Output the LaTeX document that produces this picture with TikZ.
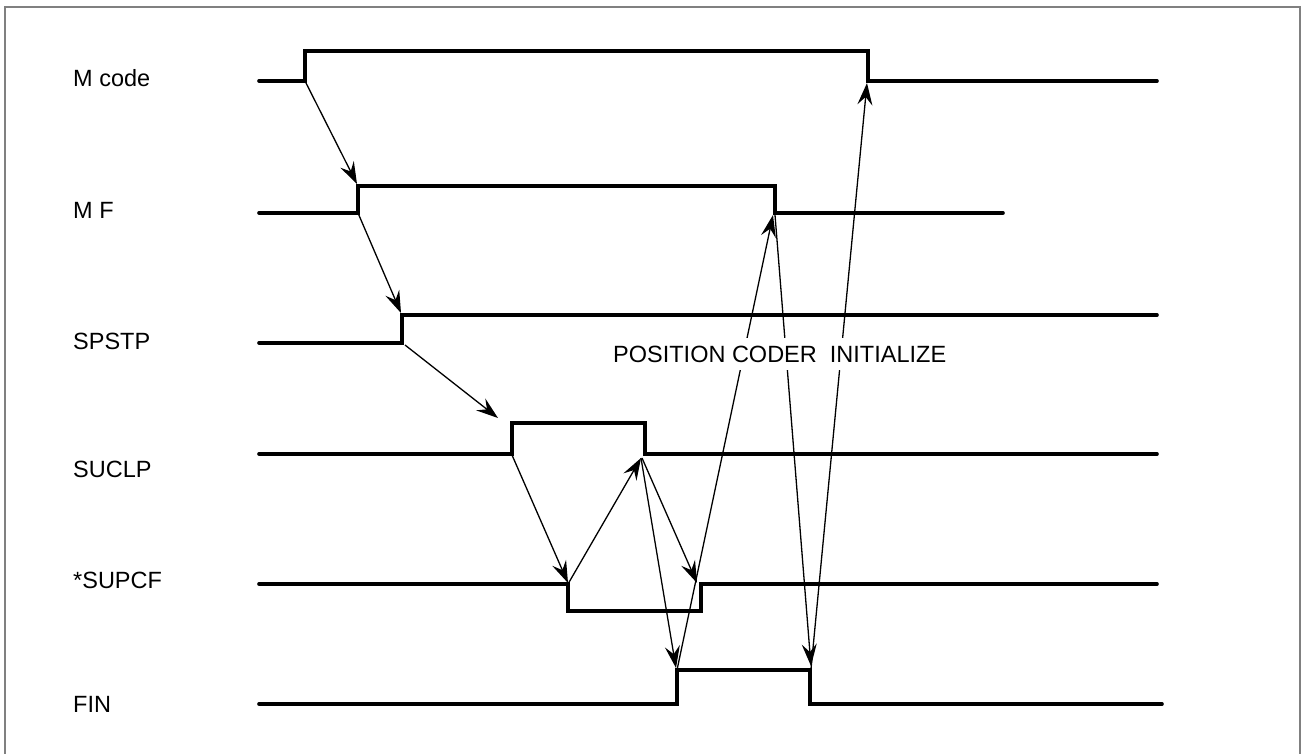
\documentclass[tikz,border=0pt]{standalone}
\usepackage{fontspec}
\setmainfont{Liberation Sans}
\usetikzlibrary{arrows.meta}
\begin{document}
\begin{tikzpicture}[x=1pt,y=-1pt,
  sig/.style={line width=3.6pt, line cap=round, line join=miter},
  cause/.style={line width=1.3pt, -{Stealth[length=22pt,width=15pt,inset=8pt]}},
  lbl/.style={anchor=base west, inner sep=0pt, font=\fontsize{23.5}{28}\selectfont},
  note/.style={anchor=base west, fill=white, inner xsep=1pt, inner ysep=8pt, font=\fontsize{23.5}{28}\selectfont},
  frame/.style={draw=black!50, line width=2pt}]
\useasboundingbox (0,0) rectangle (1302,754);
\draw[frame] (5,770) -- (5,7) -- (1300,7) -- (1300,770);

% labels
\node[lbl] (lmc) at (73,87) {M code};
\node[lbl] (lmf) at (73,219) {M F};
\node[lbl] (lsp) at (73,349) {SPSTP};
\node[lbl] (lsu) at (73,477) {SUCLP};
\node[lbl] (lsc) at (73,588) {*SUPCF};
\node[lbl] (lfi) at (73,712) {FIN};

% signal corners
\coordinate (mcL) at (305,81);  \coordinate (mcH1) at (305,51);
\coordinate (mcH2) at (868,51); \coordinate (mcF) at (868,81);
\coordinate (mfL) at (358,213); \coordinate (mfH1) at (358,186);
\coordinate (mfH2) at (775,186); \coordinate (mfF) at (775,213);
\coordinate (spL) at (402,343); \coordinate (spH) at (402,315);
\coordinate (suL) at (512,454); \coordinate (suH1) at (512,423);
\coordinate (suH2) at (645,423); \coordinate (suF) at (645,454);
\coordinate (scH1) at (568,584); \coordinate (scL1) at (568,611);
\coordinate (scL2) at (701,611); \coordinate (scH2) at (701,584);
\coordinate (fiL) at (677,704); \coordinate (fiH1) at (677,670);
\coordinate (fiH2) at (810,670); \coordinate (fiF) at (810,704);

% signals
\draw[sig] (259,81) -- (mcL) -- (mcH1) -- (mcH2) -- (mcF) -- (1157,81);
\draw[sig] (259,213) -- (mfL) -- (mfH1) -- (mfH2) -- (mfF) -- (1003,213);
\draw[sig] (259,343) -- (spL) -- (spH) -- (1157,315);
\draw[sig] (259,454) -- (suL) -- (suH1) -- (suH2) -- (suF) -- (1157,454);
\draw[sig] (259,584) -- (scH1) -- (scL1) -- (scL2) -- (scH2) -- (1157,584);
\draw[sig] (259,704) -- (fiL) -- (fiH1) -- (fiH2) -- (fiF) -- (1162,704);

% arrow end points
\coordinate (a1s) at (305,81);  \coordinate (a1e) at (357,184);
\coordinate (a2s) at (358,213); \coordinate (a2e) at (401,313);
\coordinate (a3s) at (405,345); \coordinate (a3e) at (498,418);
\coordinate (a4s) at (512,455); \coordinate (a4e) at (568,583);
\coordinate (a5s) at (568,584); \coordinate (a5e) at (641,458);
\coordinate (a6s) at (642,458); \coordinate (a6e) at (697,583);
\coordinate (a7s) at (641,458); \coordinate (a7e) at (676,668);
\coordinate (a8s) at (677,670); \coordinate (a8e) at (773,215);
\coordinate (a9s) at (775,215); \coordinate (a9e) at (811,666);
\coordinate (a10s) at (811,669); \coordinate (a10e) at (867,83);

\foreach \i in {1,...,10} \draw[cause] (a\i s) -- (a\i e);

\node[note] (pci) at (612,362) {POSITION CODER\ \ INITIALIZE};
\end{tikzpicture}
\end{document}
